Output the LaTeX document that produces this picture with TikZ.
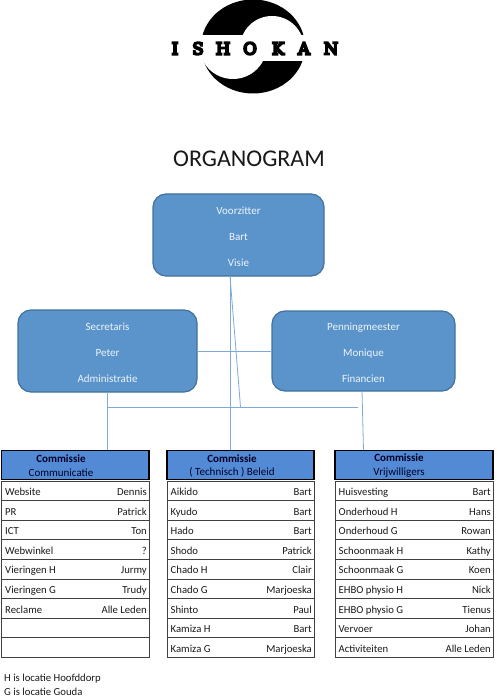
\documentclass[tikz,border=0pt]{standalone}
\usepackage{fontspec}
\setmainfont{Carlito}
\newfontfamily\logofont[FakeBold=12]{DejaVu Serif}
\definecolor{boxblue}{HTML}{5B94CB}
\definecolor{boxedge}{HTML}{41719C}
\definecolor{hdrblue}{HTML}{528AD6}
\definecolor{connblue}{HTML}{7FA9D8}
\definecolor{softwhite}{HTML}{EEF4FA}
\definecolor{rowedge}{HTML}{404040}
\newcommand{\lowerstrut}{\rule{0pt}{11pt}}
\tikzset{
  rolebox/.style={draw=boxedge,fill=boxblue,line width=1.2pt,rounded corners=13pt,inner sep=0pt,outer sep=0pt,
    align=center,text=softwhite,font=\fontsize{11}{25.7}\selectfont},
  conn/.style={draw=connblue,line width=0.8pt},
  hdrbox/.style={draw=black,fill=hdrblue,line width=1.8pt,inner sep=0pt,outer sep=0pt,anchor=north west},
  rowbox/.style={draw=rowedge,line width=0.8pt,inner sep=0pt,outer sep=0pt,anchor=north west},
  celltext/.style={inner sep=0pt,font=\fontsize{10.7}{12}\selectfont,text=black!90},
  hdrtext/.style={inner sep=0pt,align=center,font=\fontsize{11}{13.6}\selectfont,text=black!85!blue},
  logoletter/.style={inner sep=0pt,font=\logofont\fontsize{16.5}{17}\selectfont},
}
\newcommand{\coltable}[6]{%
  % id, left, width, text centre, subtitle, rows
  \foreach \lefttext/\righttext [count=\i from 0] in {#6}{
    \pgfmathsetmacro{\ytop}{481+\i*19.6}
    \node[rowbox,minimum width=#3pt,minimum height=19.6pt] (#1row\i) at (#2,\ytop) {};
    \node[celltext,anchor=base west] (#1left\i) at ([shift={(3.5,4.6)}]#1row\i.west) {\lefttext};
    \node[celltext,anchor=base east] (#1right\i) at ([shift={(-2,4.6)}]#1row\i.east) {\righttext};
  }
  \node[hdrbox,minimum width=#3pt,minimum height=29pt] (#1hdr) at (#2,450.5) {};
  \node[hdrtext] (#1title) at (#4,465.8) {\textbf{Commissie}\\#5};
}
\begin{document}
\begin{tikzpicture}[x=1pt,y=-1pt]
\useasboundingbox (0,0) rectangle (497,700);
% logo
\begin{scope}
  \clip (180,-1) rectangle (330,35);
  \fill[black] (253,46.5) ellipse [x radius=52pt,y radius=47pt];
  \fill[white] (272,48) circle [radius=32pt];
\end{scope}
\begin{scope}
  \clip (180,62) rectangle (330,100);
  \fill[black] (253,46.5) ellipse [x radius=52pt,y radius=47pt];
  \fill[white] (233,45) circle [radius=34pt];
\end{scope}
\node[logoletter] (lI) at (175,48.5) {I};
\node[logoletter] (lS) at (198,48.5) {S};
\node[logoletter] (lH) at (223,48.5) {H};
\node[logoletter] (lO) at (250,48.5) {O};
\node[logoletter] (lK) at (278,48.5) {K};
\node[logoletter] (lA) at (304,48.5) {A};
\node[logoletter] (lN) at (331,48.5) {N};
% title
\node[inner sep=0pt,font=\fontsize{24}{28}\selectfont,text=black!90] (title) at (249,159) {ORGANOGRAM};
% role boxes
\node[rolebox,minimum width=171pt,minimum height=82pt] (voor) at (238.5,235) {\lowerstrut Voorzitter\\Bart\\Visie};
\node[rolebox,minimum width=179pt,minimum height=82pt] (secr) at (107.5,351) {\lowerstrut Secretaris\\Peter\\Administratie};
\node[rolebox,minimum width=183pt,minimum height=80pt] (penn) at (363.5,351) {\lowerstrut Penningmeester\\Monique\\Financien};
% tables
\coltable{a}{1.5}{147.5}{61}{Communicatie}{Website/Dennis,PR/Patrick,ICT/Ton,Webwinkel/?,Vieringen H/Jurmy,Vieringen G/Trudy,Reclame/Alle Leden,{}/{},{}/{}}
\coltable{b}{167}{147}{232}{( Technisch ) Beleid}{Aikido/Bart,Kyudo/Bart,Hado/Bart,Shodo/Patrick,Chado H/Clair,Chado G/Marjoeska,Shinto/Paul,Kamiza H/Bart,Kamiza G/Marjoeska}
\coltable{c}{335}{158}{399}{Vrijwilligers}{Huisvesting/Bart,Onderhoud H/Hans,Onderhoud G/Rowan,Schoonmaak H/Kathy,Schoonmaak G/Koen,EHBO physio H/Nick,EHBO physio G/Tienus,Vervoer/Johan,Activiteiten/Alle Leden}
% connector points
\coordinate (voorout) at (230,276);
\coordinate (busleft) at (107,407);
\coordinate (busright) at (358,407);
\coordinate (busjoin) at (240.5,407);
\coordinate (bdrop) at (230,450);
\coordinate (adrop) at (107,450);
\coordinate (cdrop) at (363.5,450);
% connectors
\draw[conn] (voorout) -- (bdrop);
\draw[conn] (voorout) -- (busjoin);
\draw[conn] (secr.east) -- (penn.west);
\draw[conn] (busleft) -- (busright);
\draw[conn] (secr.south -| adrop) -- (adrop);
\draw[conn] (362,391) -- (cdrop);
% footnotes
\node[celltext,anchor=base west] (noteH) at (4,681.5) {H is locatie Hoofddorp};
\node[celltext,anchor=base west] (noteG) at (4,695) {G is locatie Gouda};
\end{tikzpicture}
\end{document}
